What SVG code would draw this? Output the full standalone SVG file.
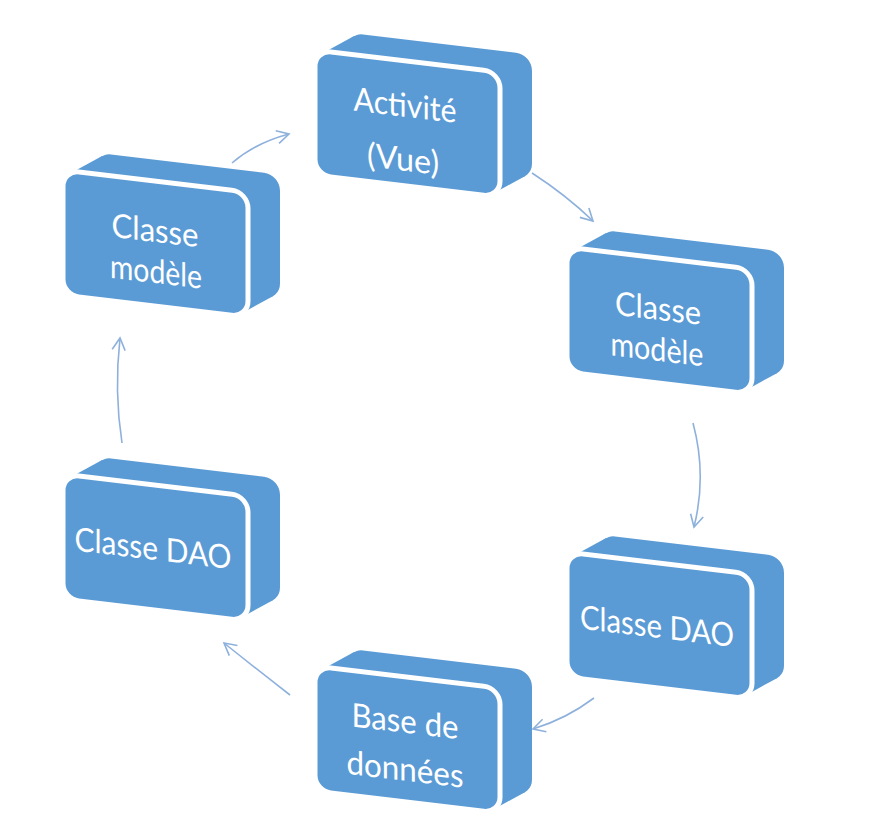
<svg xmlns="http://www.w3.org/2000/svg" width="869" height="821" viewBox="0 0 869 821">
<style>
.face{fill:#5b9bd5}
.front{fill:#5b9bd5;stroke:#ffffff;stroke-width:5}
.lbl{font-family:Lato,"Liberation Sans",sans-serif;font-size:30px;fill:#ffffff;text-anchor:middle}
.conn{fill:none;stroke:#8eb1dc;stroke-width:1.6}
</style>
<defs>
<marker id="ah" markerUnits="userSpaceOnUse" markerWidth="20" markerHeight="20" refX="0" refY="0" viewBox="-14 -10 16 20" orient="auto">
<path d="M-12,-6.5 L0,0 L-12,6.5" fill="none" stroke="#8eb1dc" stroke-width="1.6"/>
</marker>
<g id="box">
<rect class="face" x="32" y="-21.3" width="185" height="125" rx="16"/>
<polygon class="face" points="7.1,2.7 39.1,-18.6 209.9,101 177.9,122.3"/>
<rect class="front" x="0" y="0" width="185" height="125" rx="16"/>
</g>
</defs>
<rect width="869" height="821" fill="#ffffff"/>
<g id="connectors">
<path class="conn" d="M232,163 Q255,143 289,134" marker-end="url(#ah)"/>
<path class="conn" d="M532,173 Q566,195 593,221" marker-end="url(#ah)"/>
<path class="conn" d="M693,423 Q707,475 694,527" marker-end="url(#ah)"/>
<path class="conn" d="M594,698 Q566,719 533,729" marker-end="url(#ah)"/>
<path class="conn" d="M290,695 Q254,667 224,643" marker-end="url(#ah)"/>
<path class="conn" d="M122,443 Q114,392 120,338" marker-end="url(#ah)"/>
</g>
<g id="activite" transform="translate(315,50) skewY(6.84)">
<use href="#box"/>
<text class="lbl" transform="translate(90,56) scale(1,1.1)" textLength="103" lengthAdjust="spacingAndGlyphs">Activité</text>
<text class="lbl" transform="translate(88,110) scale(1,1.1)" textLength="72" lengthAdjust="spacingAndGlyphs">(Vue)</text>
</g>
<g id="modele-droite" transform="translate(567,247) skewY(6.84)">
<use href="#box"/>
<text class="lbl" transform="translate(91,62) scale(1,1.1)" textLength="86" lengthAdjust="spacingAndGlyphs">Classe</text>
<text class="lbl" transform="translate(90,103) scale(1,1.1)" textLength="93" lengthAdjust="spacingAndGlyphs">modèle</text>
</g>
<g id="dao-droite" transform="translate(567,552) skewY(6.84)">
<use href="#box"/>
<text class="lbl" transform="translate(90,75) scale(1,1.1)" textLength="154" lengthAdjust="spacingAndGlyphs">Classe DAO</text>
</g>
<g id="base-donnees" transform="translate(315,666) skewY(6.84)">
<use href="#box"/>
<text class="lbl" transform="translate(90,56) scale(1,1.1)" textLength="107" lengthAdjust="spacingAndGlyphs">Base de</text>
<text class="lbl" transform="translate(90,104) scale(1,1.1)" textLength="117" lengthAdjust="spacingAndGlyphs">données</text>
</g>
<g id="dao-gauche" transform="translate(63,474) skewY(6.84)">
<use href="#box"/>
<text class="lbl" transform="translate(90,75) scale(1,1.1)" textLength="157" lengthAdjust="spacingAndGlyphs">Classe DAO</text>
</g>
<g id="modele-gauche" transform="translate(63,170) skewY(6.84)">
<use href="#box"/>
<text class="lbl" transform="translate(92,61) scale(1,1.1)" textLength="87" lengthAdjust="spacingAndGlyphs">Classe</text>
<text class="lbl" transform="translate(93,102) scale(1,1.1)" textLength="92" lengthAdjust="spacingAndGlyphs">modèle</text>
</g>
</svg>
